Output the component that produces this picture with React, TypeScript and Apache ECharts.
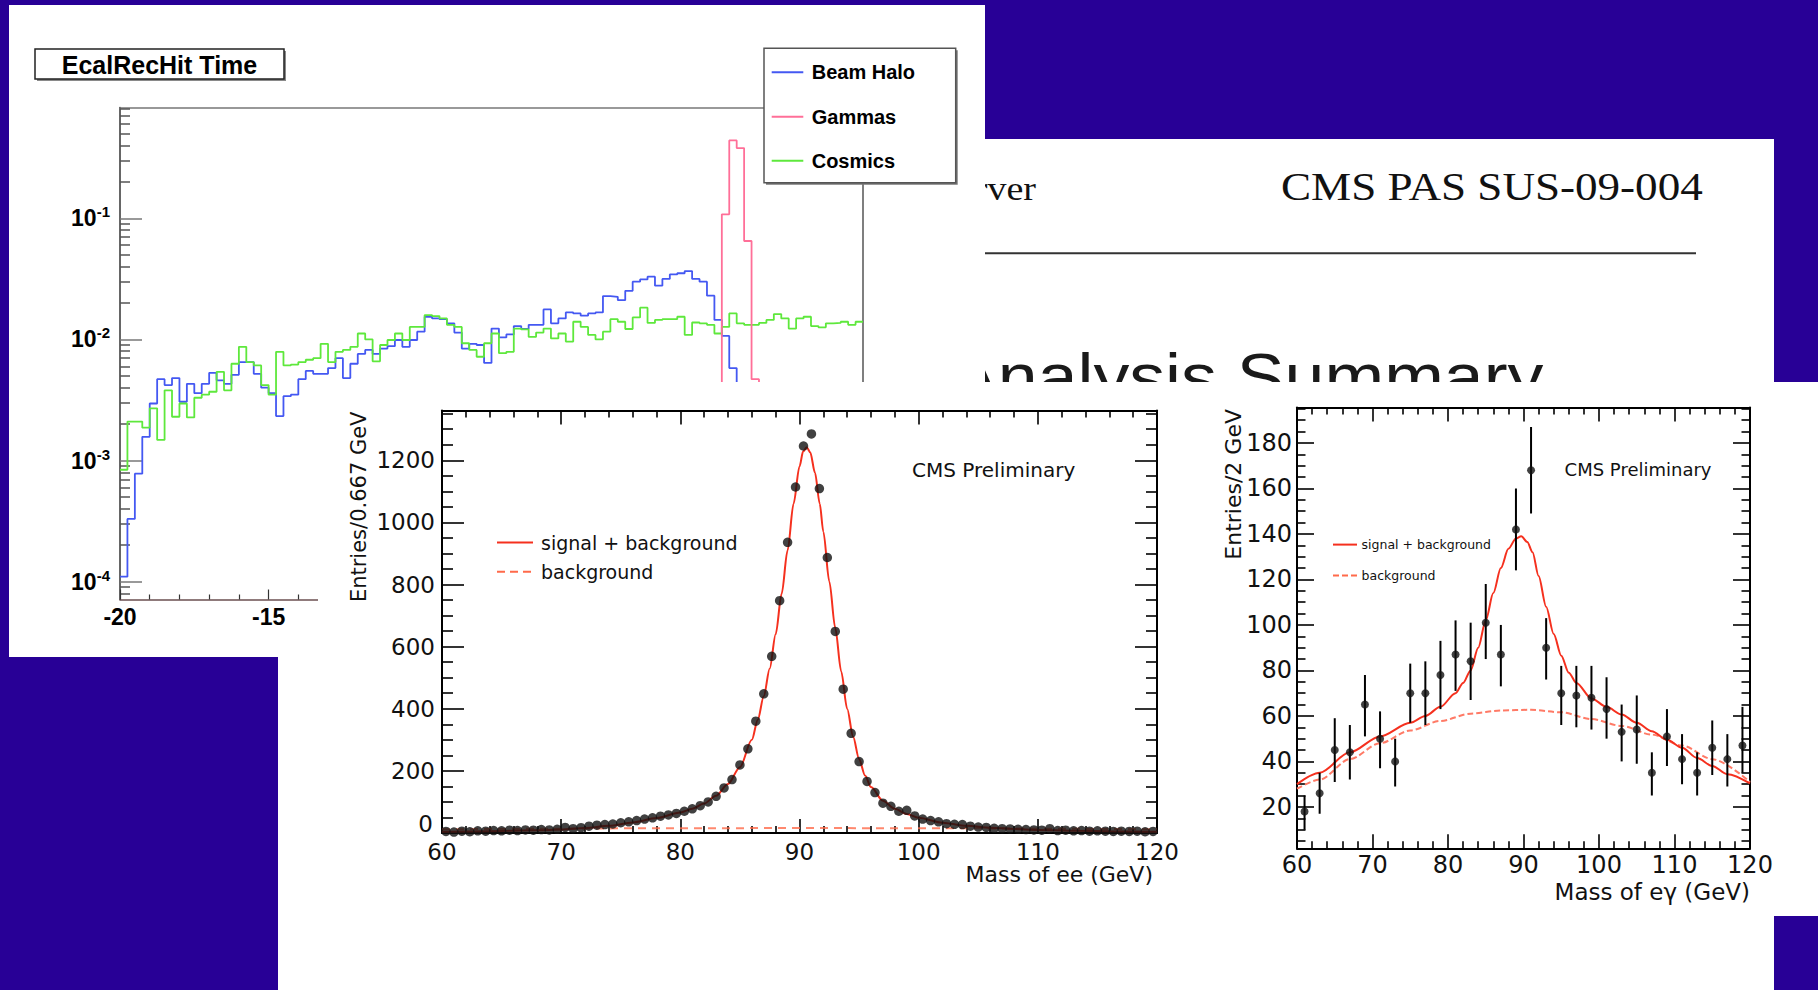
import React, { useEffect, useRef } from "react";
import * as echarts from "echarts";

const W = 1818;
const H = 990;

const SANS = "'DejaVu Sans', sans-serif";
const HELV = "'Liberation Sans', Arial, sans-serif";
const SERIF = "'Liberation Serif', 'Times New Roman', serif";
const RED = "#f5301e";
const SLIDE_BLUE = "#280096";

// ---------------- EcalRecHit time histogram (100 bins of 0.25 ns, -20 .. 5) ----------------
const TIME_MIN = -20;
const TIME_MAX = 5;
const TIME_BIN = 0.25;
const TIME_TICKS = [-20, -15, -10, -5, 0, 5];

// Beam Halo, bins 0..85
const haloValues = [
  1.1e-4, 3.3e-4, 7.8e-4, 1.57e-3, 2.96e-3, 4.7e-3, 4.2e-3, 4.8e-3, 3.06e-3, 4.3e-3,
  3.6e-3, 4.3e-3, 5.3e-3, 4.6e-3, 4.3e-3, 5.1e-3, 6.5e-3, 6.5e-3, 5.2e-3, 4.0e-3,
  3.6e-3, 2.33e-3, 3.4e-3, 3.5e-3, 4.7e-3, 5.5e-3, 5.2e-3, 5.2e-3, 5.8e-3, 7.0e-3,
  4.8e-3, 6.3e-3, 7.6e-3, 8.2e-3, 7.6e-3, 8.4e-3, 8.8e-3, 9.9e-3, 8.7e-3, 9.9e-3,
  0.0116, 0.0154, 0.0149, 0.0147, 0.0136, 0.0114, 0.0084, 0.0092, 0.009, 0.0064,
  0.0123, 0.0104, 0.011, 0.0129, 0.0122, 0.0132, 0.0132, 0.0177, 0.0136, 0.0149,
  0.0167, 0.0164, 0.0157, 0.0164, 0.0167, 0.0228, 0.0225, 0.0211, 0.0252, 0.03,
  0.0313, 0.033, 0.0278, 0.0316, 0.0344, 0.0352, 0.0367, 0.0316, 0.03, 0.023,
  0.0145, 0.0107, 0.0058, 0.003, 0.0012, 0.0004,
];
const HALO_FIRST_BIN = 0;

// Gammas, bins 80..86
const gammaValues = [3e-4, 0.108, 0.44, 0.38, 0.065, 0.0047, 3e-4];
const GAMMA_FIRST_BIN = 80;

// Cosmics, bins 0..99
const cosmicValues = [
  8.4e-4, 2.1e-3, 2.1e-3, 1.87e-3, 2.7e-3, 1.48e-3, 3.8e-3, 2.3e-3, 2.96e-3, 2.27e-3,
  3.3e-3, 3.5e-3, 3.7e-3, 5.4e-3, 3.8e-3, 6.3e-3, 8.7e-3, 6.5e-3, 6.1e-3, 4.2e-3,
  3.5e-3, 7.9e-3, 6.1e-3, 6.2e-3, 6.5e-3, 6.8e-3, 7.0e-3, 9.2e-3, 6.5e-3, 7.9e-3,
  8.2e-3, 8.7e-3, 0.0112, 0.01, 6.6e-3, 9.0e-3, 9.9e-3, 0.0112, 9.9e-3, 0.0127,
  0.0127, 0.0159, 0.0156, 0.0149, 0.0132, 0.0127, 0.0093, 0.0082, 0.0072, 0.0093,
  0.0112, 0.0077, 0.0079, 0.0123, 0.0121, 0.0105, 0.0114, 0.0123, 0.0102, 0.0112,
  0.0096, 0.014, 0.0127, 0.0109, 0.01, 0.0116, 0.0147, 0.014, 0.0122, 0.0152,
  0.0183, 0.0137, 0.0145, 0.0147, 0.0147, 0.0154, 0.0109, 0.0138, 0.0136, 0.0132,
  0.0112, 0.0127, 0.0164, 0.0136, 0.0132, 0.0132, 0.0137, 0.0145, 0.0162, 0.0149,
  0.0123, 0.0149, 0.0154, 0.0129, 0.0126, 0.0136, 0.0137, 0.014, 0.0132, 0.014,
];
const COSMIC_FIRST_BIN = 0;

// log10 range of the histogram's y axis
const LOG_MIN = -4.147;
const LOG_MAX = -0.085;
const LOG_DECADES = [-4, -3, -2, -1];

// ---------------- Z -> ee (bins of 0.667 GeV, 60 .. 120) ----------------
const EE_MIN = 60;
const EE_BIN = 0.6667;
const eeCounts = [
  5, 3, 6, 4, 7, 6, 8, 7, 9, 8,
  10, 9, 11, 10, 12, 18, 14, 17, 22, 25,
  27, 29, 33, 36, 40, 45, 49, 54, 58, 63,
  70, 78, 88, 100, 118, 145, 172, 219, 271, 360,
  448, 569, 748, 936, 1114, 1246, 1285, 1109, 887, 649,
  463, 321, 230, 166, 130, 96, 86, 70, 73, 55,
  45, 40, 36, 30, 28, 27, 22, 19, 18, 15,
  14, 13, 12, 11, 10, 9, 14, 8, 9, 7,
  8, 6, 7, 6, 5, 6, 5, 6, 4, 5,
];
// fitted signal + background
const eeFit = [
  [60, 4], [64, 6], [68, 9], [70, 11], [72, 16], [74, 23], [76, 34], [78, 48], [80, 66],
  [81, 78], [82, 95], [83, 120], [84, 158], [85, 212], [86, 300], [86.5, 365], [87, 440],
  [87.5, 530], [88, 640], [88.5, 770], [89, 910], [89.5, 1060], [90, 1180], [90.3, 1228],
  [90.6, 1242], [90.9, 1226], [91.3, 1160], [91.7, 1060], [92, 970], [92.5, 810], [93, 660],
  [93.5, 520], [94, 400], [94.5, 310], [95, 238], [95.5, 185], [96, 148], [97, 104],
  [98, 78], [99, 61], [100, 49], [102, 33], [104, 23], [106, 17], [108, 13], [110, 10],
  [113, 7], [116, 6], [120, 4],
];
const eeBackground = [[60, 12], [75, 15], [90, 16], [105, 15], [120, 12]];
const EE_Y_MAX = 1360;
const EE_Y_LABELS = [0, 200, 400, 600, 800, 1000, 1200];

// ---------------- Z -> e gamma (bins of 2 GeV, 60 .. 120) ----------------
const egMass = [61, 63, 65, 67, 69, 71, 73, 75, 77, 79, 81, 83, 85, 87, 89, 91, 93, 95, 97, 99,
  101, 103, 105, 107, 109, 111, 113, 115, 117, 119];
const egCounts = [18, 26, 45, 44, 65, 50, 40, 70, 70, 78, 87, 84, 101, 87, 142, 168, 90, 70, 69, 68,
  63, 53, 54, 35, 51, 41, 35, 46, 41, 47];
const egErrLow = [10, 17, 31, 32, 51, 37, 29, 57, 56, 63, 71, 67, 85, 73, 124, 149, 76, 56, 55, 54,
  50, 40, 39, 25, 38, 30, 25, 34, 29, 35];
const egErrHigh = [25, 35, 59, 56, 78, 62, 50, 83, 84, 93, 102, 101, 118, 100, 160, 187, 103, 82, 82, 82,
  77, 65, 69, 44, 63, 52, 44, 58, 52, 64];
const egFit = [
  [60, 30], [63, 35], [67, 44], [71, 51], [75, 57], [77, 60], [79, 64], [81, 70], [82, 74.5],
  [83, 80], [84, 90], [85, 102], [86, 114], [87, 125], [88, 133.5], [89, 138], [89.7, 139],
  [90.5, 136.5], [91.2, 132], [92, 121.5], [93, 108], [94, 96], [95, 86.5], [96, 79],
  [97, 74.5], [99, 67.7], [101, 64], [103, 60.6], [105, 57], [107, 53.3], [109, 49.5],
  [111, 46], [113, 41.5], [115, 38], [117, 34.4], [120, 30.3],
];
const egBackground = [
  [60, 28], [63, 32], [67, 41], [71, 48], [75, 53.6], [79, 57.8], [83, 61], [87, 62.4],
  [91, 62.7], [95, 61.6], [99, 58.6], [103, 55.6], [107, 51.8], [111, 47], [115, 41], [120, 31],
];
const EG_Y_MIN = 1.8;
const EG_Y_MAX = 195.6;
const EG_Y_LABELS = [20, 40, 60, 80, 100, 120, 140, 160, 180];

// ---------------- helpers ----------------
function stepData(firstBin: number, values: number[]) {
  const pts = values.map((v, k) => [TIME_MIN + (firstBin + k) * TIME_BIN, Math.log10(v)]);
  pts.push([TIME_MIN + (firstBin + values.length) * TIME_BIN, Math.log10(values[values.length - 1])]);
  return pts;
}

function logMinorTicks() {
  const out: number[] = [];
  for (let d = -5; d <= -1; d++) {
    for (let k = 2; k <= 9; k++) {
      const t = d + Math.log10(k);
      if (t > LOG_MIN && t < LOG_MAX) out.push(t);
    }
  }
  return out;
}

function stepValues(from: number, to: number, step: number, skip: number[]) {
  const out: number[] = [];
  for (let v = from; v <= to; v += step) if (skip.indexOf(v) < 0) out.push(v);
  return out;
}

const noSplit = { show: false };

function histSeries(name: string, color: string, first: number, values: number[]) {
  return {
    type: "line",
    name,
    xAxisIndex: 0,
    yAxisIndex: 0,
    step: "end",
    symbol: "none",
    showSymbol: false,
    clip: true,
    z: 4,
    data: stepData(first, values),
    lineStyle: { color, width: 1.8 },
    itemStyle: { color },
  };
}

function backOption() {
  const minor = logMinorTicks();
  const legendRows = [
    { label: "Beam Halo", color: "#4458f2", y: 72.3 },
    { label: "Gammas", color: "#ff6f98", y: 116.7 },
    { label: "Cosmics", color: "#5ee83c", y: 160.7 },
  ];
  const graphic: any[] = [
    // document page behind the histogram slide
    { type: "rect", z: 0, shape: { x: 985, y: 139, width: 789, height: 851 }, style: { fill: "#fff" } },
    {
      type: "text", z: 0.5, x: 1036, y: 188.5, scaleX: 1.12,
      style: { text: "Available on the CMS information server", fontFamily: SERIF, fontSize: 34, fill: "#111", align: "right", verticalAlign: "middle" },
    },
    {
      type: "text", z: 0.5, x: 1281, y: 186, scaleX: 1.1,
      style: { text: "CMS PAS SUS-09-004", fontFamily: SERIF, fontSize: 41, fill: "#111", align: "left", verticalAlign: "middle" },
    },
    { type: "line", z: 0.5, shape: { x1: 985, y1: 253.3, x2: 1696, y2: 253.3 }, style: { stroke: "#333", lineWidth: 2 } },
    {
      type: "text", z: 0.5, x: 950, y: 376.6, scaleX: 1.12,
      style: { text: "Analysis Summary", fontFamily: HELV, fontSize: 64, fill: "#1a1a1a", align: "left", verticalAlign: "middle" },
    },
    // histogram slide
    { type: "rect", z: 1, shape: { x: 9, y: 5, width: 976, height: 652 }, style: { fill: "#fff" } },
    // title box
    { type: "rect", z: 10, shape: { x: 37, y: 51, width: 249, height: 30 }, style: { fill: "#8a8a8a" } },
    { type: "rect", z: 11, shape: { x: 35, y: 49, width: 249, height: 30 }, style: { fill: "#fff", stroke: "#222", lineWidth: 1.5 } },
    {
      type: "text", z: 12, x: 159.5, y: 64.5,
      style: { text: "EcalRecHit Time", fontFamily: HELV, fontWeight: "bold", fontSize: 25, fill: "#000", align: "center", verticalAlign: "middle" },
    },
    // legend box
    { type: "rect", z: 10, shape: { x: 766, y: 50.3, width: 191.7, height: 134.4 }, style: { fill: "#777" } },
    { type: "rect", z: 11, shape: { x: 764, y: 48.3, width: 191.7, height: 134.4 }, style: { fill: "#fff", stroke: "#555", lineWidth: 1.5 } },
  ];
  legendRows.forEach((r) => {
    graphic.push({ type: "line", z: 12, shape: { x1: 771.7, y1: r.y, x2: 803.3, y2: r.y }, style: { stroke: r.color, lineWidth: 2 } });
    graphic.push({
      type: "text", z: 12, x: 811.7, y: r.y,
      style: { text: r.label, fontFamily: HELV, fontWeight: "bold", fontSize: 20, fill: "#000", align: "left", verticalAlign: "middle" },
    });
  });

  const yCommon = { type: "value", gridIndex: 0, min: LOG_MIN, max: LOG_MAX, z: 3, splitLine: noSplit };
  return {
    animation: false,
    backgroundColor: SLIDE_BLUE,
    graphic,
    grid: [{ left: 120, top: 107.5, width: 743, height: 492, containLabel: false, outerBoundsMode: "none" }],
    xAxis: [
      {
        type: "value", gridIndex: 0, position: "bottom", min: TIME_MIN, max: TIME_MAX, interval: 5, z: 3,
        splitLine: noSplit,
        axisLine: { show: true, onZero: false, lineStyle: { color: "#6b4f50", width: 1.5 } },
        axisTick: { show: true, inside: true, length: 10, lineStyle: { color: "#333", width: 1.2 } },
        minorTick: { show: true, splitNumber: 5, length: 5, lineStyle: { color: "#333", width: 1.2 } },
        axisLabel: {
          show: true, margin: 6, fontFamily: HELV, fontWeight: "bold", fontSize: 23, color: "#000",
          customValues: TIME_TICKS,
        },
      },
      {
        type: "value", gridIndex: 0, position: "top", min: TIME_MIN, max: TIME_MAX, z: 3,
        splitLine: noSplit,
        axisLine: { show: true, onZero: false, lineStyle: { color: "#777", width: 1.5 } },
        axisTick: { show: false }, axisLabel: { show: false },
      },
    ],
    yAxis: [
      {
        ...yCommon, position: "left",
        axisLine: { show: true, onZero: false, lineStyle: { color: "#333", width: 1.5 } },
        axisTick: { show: true, inside: true, length: 22, customValues: LOG_DECADES, lineStyle: { color: "#777", width: 1.5 } },
        axisLabel: {
          show: true, margin: 10, customValues: LOG_DECADES,
          formatter: (v: number) => `{b|10}{e|${Math.round(v)}}`,
          rich: {
            b: { fontFamily: HELV, fontWeight: "bold", fontSize: 23, color: "#000", lineHeight: 28 },
            e: { fontFamily: HELV, fontWeight: "bold", fontSize: 15, color: "#000", lineHeight: 12, verticalAlign: "top" },
          },
        },
      },
      {
        ...yCommon, position: "left",
        axisLine: { show: false, onZero: false },
        axisTick: { show: true, inside: true, length: 10, customValues: minor, lineStyle: { color: "#555", width: 1.5 } },
        axisLabel: { show: false },
      },
      {
        ...yCommon, position: "right",
        axisLine: { show: true, onZero: false, lineStyle: { color: "#555", width: 1.5 } },
        axisTick: { show: false }, axisLabel: { show: false },
      },
    ],
    series: [
      histSeries("Beam Halo", "#4458f2", HALO_FIRST_BIN, haloValues),
      histSeries("Cosmics", "#5ee83c", COSMIC_FIRST_BIN, cosmicValues),
      histSeries("Gammas", "#ff6f98", GAMMA_FIRST_BIN, gammaValues),
    ],
  };
}

function frontOption() {
  const eeMinorY = stepValues(50, 1350, 50, EE_Y_LABELS);
  const egMinorY = stepValues(5, 195, 5, EG_Y_LABELS);
  const eeCenters = eeCounts.map((_, i) => EE_MIN + (i + 0.5) * EE_BIN);

  const xAxisPair = (grid: number, tickLen: number, labelSize: number, margin: number) => {
    const base = {
      type: "value", gridIndex: grid, min: 60, max: 120, interval: 10, z: 3,
      splitLine: noSplit,
      axisLine: { show: true, onZero: false, lineStyle: { color: "#000", width: 2 } },
      axisTick: { show: true, inside: true, length: tickLen, lineStyle: { color: "#000", width: 1.6 } },
      minorTick: { show: true, splitNumber: 5, length: tickLen / 2, lineStyle: { color: "#000", width: 1.6 } },
    };
    return [
      {
        ...base, position: "bottom",
        axisLabel: {
          show: true, margin, fontFamily: SANS, fontSize: labelSize, color: "#111",
          showMinLabel: true, showMaxLabel: true, formatter: (v: number) => `${v}`,
        },
      },
      { ...base, position: "top", axisLabel: { show: false } },
    ];
  };

  const yAxisSet = (grid: number, min: number, max: number, labels: number[], minor: number[], len: number, size: number, margin: number) => {
    const base = { type: "value", gridIndex: grid, min, max, z: 3, splitLine: noSplit };
    const line = { show: true, onZero: false, lineStyle: { color: "#000", width: 2 } };
    const major = { show: true, inside: true, length: len, customValues: labels, lineStyle: { color: "#000", width: 1.6 } };
    const minorT = { show: true, inside: true, length: len / 2, customValues: minor, lineStyle: { color: "#000", width: 1.6 } };
    return [
      {
        ...base, position: "left", axisLine: line, axisTick: major,
        axisLabel: {
          show: true, customValues: labels, margin, fontFamily: SANS, fontSize: size, color: "#111",
          // plain integers; the zero sits a little higher, clear of the x labels
          formatter: (v: number) => (v === 0 ? "{z|0}" : `${v}`),
          rich: { z: { fontFamily: SANS, fontSize: size, color: "#111", padding: [0, 2, 18, 0] } },
        },
      },
      { ...base, position: "left", axisLine: { show: false, onZero: false }, axisTick: minorT, axisLabel: { show: false } },
      { ...base, position: "right", axisLine: line, axisTick: major, axisLabel: { show: false } },
      { ...base, position: "right", axisLine: { show: false, onZero: false }, axisTick: minorT, axisLabel: { show: false } },
    ];
  };

  const txt = (x: number, y: number, text: string, size: number, align: string, extra: any = {}) => ({
    type: "text", z: 20, x, y, ...extra,
    style: { text, fontFamily: SANS, fontSize: size, fill: "#111", align, verticalAlign: "middle" },
  });
  const seg = (x1: number, x2: number, y: number, dash: any) => ({
    type: "line", z: 20, shape: { x1, y1: y, x2, y2: y },
    style: { stroke: dash ? "#ff6a4a" : RED, lineWidth: 2, lineDash: dash || null },
  });

  const graphic: any[] = [
    // white page carrying the two mass plots
    { type: "rect", z: 0, shape: { x: 318, y: 382, width: 1456, height: 608 }, style: { fill: "#fff" } },
    { type: "rect", z: 0, shape: { x: 278, y: 657, width: 40, height: 333 }, style: { fill: "#fff" } },
    { type: "rect", z: 0, shape: { x: 1774, y: 382, width: 44, height: 534 }, style: { fill: "#fff" } },
    // ee plot texts
    txt(358.5, 411.5, "Entries/0.667 GeV", 21, "right", { rotation: Math.PI / 2 }),
    txt(1153, 874, "Mass of ee (GeV)", 22, "right"),
    txt(912, 469.6, "CMS Preliminary", 20, "left"),
    seg(497, 533, 542.6, null),
    txt(541, 542.6, "signal + background", 19, "left"),
    seg(497, 533, 571.8, [8, 5]),
    txt(541, 571.8, "background", 19, "left"),
    // e gamma plot texts
    txt(1233.5, 409, "Entries/2 GeV", 22, "right", { rotation: Math.PI / 2 }),
    txt(1750, 892, "Mass of e\u03b3 (GeV)", 23, "right"),
    txt(1564.6, 469.5, "CMS Preliminary", 18, "left"),
    seg(1333, 1357, 544.6, null),
    txt(1361.6, 544.6, "signal + background", 12.5, "left"),
    seg(1333, 1357, 575.6, [6, 3]),
    txt(1361.6, 575.6, "background", 12.5, "left"),
  ];

  return {
    animation: false,
    graphic,
    grid: [
      { left: 442, top: 410.6, width: 715, height: 422.4, containLabel: false, outerBoundsMode: "none" },
      { left: 1297, top: 407.5, width: 453, height: 440.8, containLabel: false, outerBoundsMode: "none" },
    ],
    xAxis: [...xAxisPair(0, 14, 23, 7), ...xAxisPair(1, 14, 24, 5)],
    yAxis: [
      ...yAxisSet(0, 0, EE_Y_MAX, EE_Y_LABELS, eeMinorY, 22, 23, 7),
      ...yAxisSet(1, EG_Y_MIN, EG_Y_MAX, EG_Y_LABELS, egMinorY, 17, 24, 5),
    ],
    series: [
      {
        type: "line", xAxisIndex: 0, yAxisIndex: 0, data: eeBackground, symbol: "none", showSymbol: false, z: 4,
        lineStyle: { color: "#ff6a4a", width: 2, type: [8, 6], opacity: 0.8 },
      },
      {
        type: "line", xAxisIndex: 0, yAxisIndex: 0, data: eeFit, smooth: 0.3, smoothMonotone: "x",
        symbol: "none", showSymbol: false, z: 5, lineStyle: { color: RED, width: 2 },
      },
      {
        type: "scatter", xAxisIndex: 0, yAxisIndex: 0, z: 6, symbolSize: 9.5,
        data: eeCenters.map((m, i) => [m, eeCounts[i]]), itemStyle: { color: "#111" },
      },
      {
        type: "line", xAxisIndex: 2, yAxisIndex: 4, data: egBackground, smooth: 0.3, smoothMonotone: "x",
        symbol: "none", showSymbol: false, z: 4, lineStyle: { color: "#ff7a66", width: 2, type: [6, 3] },
      },
      {
        type: "line", xAxisIndex: 2, yAxisIndex: 4, data: egFit, smooth: 0.3, smoothMonotone: "x",
        symbol: "none", showSymbol: false, z: 5, lineStyle: { color: RED, width: 2 },
      },
      {
        type: "custom", xAxisIndex: 2, yAxisIndex: 4, z: 6, clip: true,
        data: egMass.map((m, i) => [m, egErrLow[i], egErrHigh[i]]),
        encode: { x: 0, y: [1, 2] },
        renderItem: (params: any, api: any) => {
          const p1 = api.coord([api.value(0), api.value(1)]);
          const p2 = api.coord([api.value(0), api.value(2)]);
          return {
            type: "line",
            shape: { x1: p1[0], y1: p1[1], x2: p2[0], y2: p2[1] },
            style: { stroke: "#000", lineWidth: 2 },
          };
        },
      },
      {
        type: "scatter", xAxisIndex: 2, yAxisIndex: 4, z: 7, symbolSize: 8,
        data: egMass.map((m, i) => [m, egCounts[i]]), itemStyle: { color: "#111" },
      },
    ],
  };
}

export default function App() {
  const backRef = useRef<HTMLDivElement>(null);
  const frontRef = useRef<HTMLDivElement>(null);

  useEffect(() => {
    if (!backRef.current || !frontRef.current) return;
    const back = echarts.init(backRef.current, null, { renderer: "svg" });
    back.setOption(backOption() as any);
    const front = echarts.init(frontRef.current, null, { renderer: "svg" });
    front.setOption(frontOption() as any);
    return () => {
      front.dispose();
      back.dispose();
    };
  }, []);

  const layer: React.CSSProperties = { position: "absolute", left: 0, top: 0, width: W, height: H };
  return (
    <div style={{ position: "fixed", left: 0, top: 0, width: W, height: H, overflow: "hidden", background: SLIDE_BLUE }}>
      <div ref={backRef} style={layer} />
      <div ref={frontRef} style={layer} />
    </div>
  );
}
